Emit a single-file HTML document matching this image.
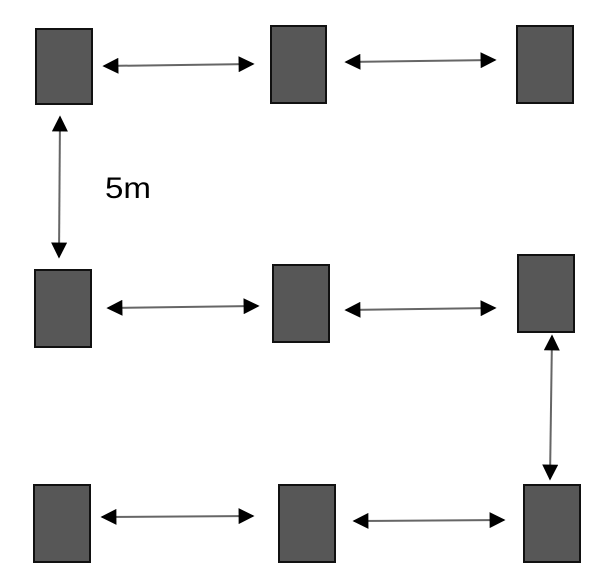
<!DOCTYPE html>
<html><head><style>
html,body{margin:0;padding:0;background:#fff;width:607px;height:587px;overflow:hidden}
</style></head><body>
<svg width="607" height="587" viewBox="0 0 607 587" xmlns="http://www.w3.org/2000/svg">
<defs>
<marker id="h" viewBox="0 0 10 10" refX="9" refY="5" markerWidth="16" markerHeight="16" markerUnits="userSpaceOnUse" orient="auto-start-reverse">
<path d="M0,0 L10,5 L0,10 z" fill="#000"/>
</marker>
</defs>
<g fill="#575757" stroke="#111" stroke-width="2">
<rect x="36" y="29" width="56" height="75"/>
<rect x="271" y="26" width="55" height="77"/>
<rect x="517" y="26" width="56" height="77"/>
<rect x="35" y="270" width="56" height="77"/>
<rect x="273" y="265" width="56" height="77"/>
<rect x="518" y="255" width="56" height="77"/>
<rect x="34" y="485" width="56" height="77"/>
<rect x="279" y="485" width="56" height="77"/>
<rect x="524" y="485" width="56" height="77"/>
</g>
<g stroke="#666" stroke-width="2" marker-start="url(#h)" marker-end="url(#h)">
<line x1="104" y1="66" x2="253" y2="64"/>
<line x1="346" y1="62" x2="495" y2="60"/>
<line x1="60" y1="117" x2="59" y2="257"/>
<line x1="108" y1="308" x2="258" y2="306"/>
<line x1="346" y1="310" x2="495" y2="308"/>
<line x1="552" y1="336" x2="550" y2="479"/>
<line x1="102" y1="517" x2="253" y2="516"/>
<line x1="354" y1="521" x2="504" y2="520"/>
</g>
<text x="105" y="198" font-family="Liberation Sans, sans-serif" font-size="30" fill="#000" textLength="46" lengthAdjust="spacingAndGlyphs">5m</text>
</svg>
</body></html>
